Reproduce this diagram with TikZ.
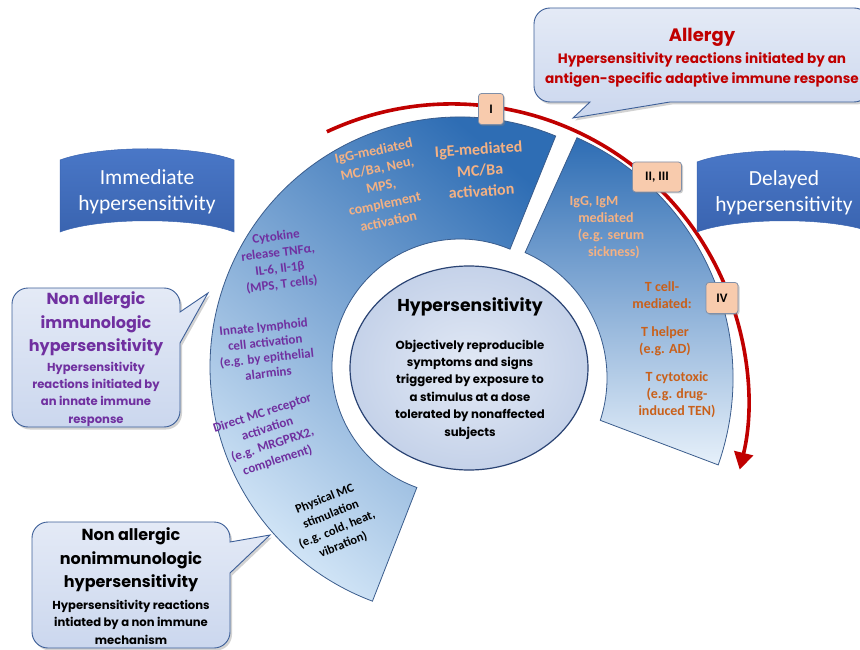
\documentclass[tikz,border=0pt]{standalone}
\usepackage{fontspec}
\setmainfont{Carlito}
\newfontfamily\gothic{Poppins}
\usetikzlibrary{arrows.meta,shadows}
\definecolor{allergyred}{HTML}{C00000}
\definecolor{purp}{HTML}{7030A0}
\definecolor{lorange}{HTML}{F4B183}
\definecolor{dorange}{HTML}{C9601A}
\definecolor{bannerblue}{HTML}{4A78C8}
\definecolor{bannerdark}{HTML}{3A64B0}
\definecolor{calltop}{HTML}{E4EAF6}
\definecolor{callbot}{HTML}{CBD7EE}
\definecolor{callborder}{HTML}{3D5F98}
\definecolor{segdark}{HTML}{2E6DB4}
\definecolor{segmid}{HTML}{8CBBE8}
\definecolor{seglight}{HTML}{D3E6F7}
\definecolor{rsegmid}{HTML}{86AEDF}
\definecolor{rseglight}{HTML}{E6F0FA}
\definecolor{segedge}{HTML}{3A5C8C}
\definecolor{badgefill}{HTML}{F8CBAD}
\definecolor{badgeedge}{HTML}{7F8FA8}
\definecolor{ellin}{HTML}{E2E9F5}
\definecolor{ellout}{HTML}{C5D2E9}
\definecolor{elledge}{HTML}{2A4373}
\tikzset{
  callout/.style={draw=callborder, line width=0.9pt, top color=calltop, bottom color=callbot,
    drop shadow={shadow xshift=2pt, shadow yshift=-2.5pt, opacity=0.35}},
  banner/.style={top color=bannerblue, bottom color=bannerdark, draw=bannerdark, line width=0.5pt},
  badge/.style={draw=badgeedge, line width=0.8pt, fill=badgefill, rounded corners=3pt, inner sep=0pt,
    font=\bfseries\fontsize{13}{15}\selectfont,
    drop shadow={shadow xshift=1.5pt, shadow yshift=-1.5pt, opacity=0.4}},
  ringtxt/.style={align=center, inner sep=0pt, font=\bfseries\fontsize{13}{16}\selectfont},
  segment/.style={draw=segedge, line width=0.8pt},
  redarc/.style={draw=allergyred, line width=3.6pt, -{Triangle[length=17pt,width=19pt]}},
  bannertxt/.style={align=center, text=white, inner sep=0pt, font=\fontsize{21.5}{26.5}\selectfont},
}
\begin{document}
\begin{tikzpicture}[x=1pt,y=-1pt]
\useasboundingbox (0,0) rectangle (860,650);
\clip (0,0) rectangle (860,650);
\fill[white] (0,0) rectangle (860,650);

% ring segments
\coordinate (L) at (460,367);
\coordinate (R) at (470,378);
\path[segment, top color=segdark, middle color=segmid, bottom color=seglight, shading angle=-40]
  ([shift={(-67.5:250)}]L) arc[start angle=-67.5, end angle=-249.5, radius=250]
  -- ([shift={(-250.3:128)}]L) arc[start angle=-250.3, end angle=-67, radius=128] -- cycle;
\path[segment, top color=segdark, middle color=rsegmid, bottom color=rseglight]
  ([shift={(-66:263)}]R) arc[start angle=-66, end angle=19.3, radius=263]
  -- ([shift={(18:137)}]R) arc[start angle=18, end angle=-66.3, radius=137] -- cycle;

% central ellipse
\path[draw=elledge, line width=1.2pt, inner color=ellin, outer color=ellout]
  (469,368) ellipse [x radius=119, y radius=102];

% red arc
\coordinate (arcC) at (452,400);
\draw[redarc] ([shift={(-115:296)}]arcC) arc[start angle=-115, end angle=13.6, radius=296];

% badges
\node[badge, minimum width=25pt, minimum height=31pt] (b1) at (491,109) {I};
\node[badge, minimum width=49pt, minimum height=30pt] (b2) at (657,177) {II, III};
\node[badge, minimum width=32pt, minimum height=31pt] (b4) at (722,298) {IV};

% banners
\path[banner] (60,160) .. controls (100,145) and (195,145) .. (234,160) -- (234,232)
  .. controls (195,217) and (100,217) .. (60,232) -- cycle;
\node[bannertxt] (immT) at (147,192) {Immediate\\hypersensitivity};
\path[banner] (697,162) .. controls (737,147) and (832,147) .. (871,162) -- (871,232)
  .. controls (832,217) and (737,217) .. (697,232) -- cycle;
\node[bannertxt] (delT) at (784,193) {Delayed\\hypersensitivity};

% callouts
\path[callout] (550,8) -- (854,8) arc[start angle=-90,end angle=0,radius=16] -- (870,86)
  arc[start angle=0,end angle=90,radius=16] -- (670,102) -- (573,118) -- (590,102) -- (550,102)
  arc[start angle=90,end angle=180,radius=16] -- (534,24) arc[start angle=180,end angle=270,radius=16] -- cycle;
\node[text=allergyred, inner sep=0pt, font=\gothic\bfseries\fontsize{18}{21}\selectfont] (allT) at (702,37) {Allergy};
\node[text=allergyred, align=center, inner sep=0pt, font=\gothic\bfseries\fontsize{13.6}{20}\selectfont] (allS) at (702,70)
  {Hypersensitivity reactions initiated by an\\antigen-specific adaptive immune response};

\path[callout] (28,288) -- (164,288) arc[start angle=-90,end angle=0,radius=16] -- (180,312) -- (208,293)
  -- (180,343) -- (180,411) arc[start angle=0,end angle=90,radius=16] -- (28,427)
  arc[start angle=90,end angle=180,radius=16] -- (12,304) arc[start angle=180,end angle=270,radius=16] -- cycle;
\node[text=purp, align=center, inner sep=0pt, font=\gothic\bfseries\fontsize{16}{23.5}\selectfont] (immuT) at (96,324)
  {Non allergic\\immunologic\\hypersensitivity};
\node[text=purp, align=center, inner sep=0pt, font=\gothic\bfseries\fontsize{11.6}{17.3}\selectfont] (immuS) at (96,394)
  {Hypersensitivity\\reactions initiated by\\an innate immune\\response};

\path[callout] (48,522) -- (214,522) arc[start angle=-90,end angle=0,radius=16] -- (230,542) -- (270,535)
  -- (230,573) -- (230,632) arc[start angle=0,end angle=90,radius=16] -- (48,648)
  arc[start angle=90,end angle=180,radius=16] -- (32,538) arc[start angle=180,end angle=270,radius=16] -- cycle;
\node[text=black, align=center, inner sep=0pt, font=\gothic\bfseries\fontsize{16}{23.5}\selectfont] (nonT) at (131,560)
  {Non allergic\\nonimmunologic\\hypersensitivity};
\node[text=black, align=center, inner sep=0pt, font=\gothic\bfseries\fontsize{11.6}{17.5}\selectfont] (nonS) at (131,622)
  {Hypersensitivity reactions\\intiated by a non immune\\mechanism};

% centre texts
\node[inner sep=0pt, font=\gothic\bfseries\fontsize{17.2}{21}\selectfont] (coreT) at (470,307) {Hypersensitivity};
\node[align=center, inner sep=0pt, font=\gothic\bfseries\fontsize{11.7}{17.4}\selectfont] (coreS) at (470,389.5)
  {Objectively reproducible\\symptoms and signs\\triggered by exposure to\\a stimulus at a dose\\tolerated by nonaffected\\subjects};

% ring texts
\node[ringtxt, text=lorange, rotate=12, font=\bfseries\fontsize{14}{18}\selectfont] (igg) at (381,186)
  {IgG-mediated\\MC/Ba, Neu,\\MPS,\\complement\\activation};
\node[ringtxt, text=lorange, rotate=4, font=\bfseries\fontsize{16}{21}\selectfont] (ige) at (480,170)
  {IgE-mediated\\MC/Ba\\activation};
\node[ringtxt, text=purp, rotate=7] (cyto) at (279,261) {Cytokine\\release TNFα,\\IL-6, Il-1β\\(MPS, T cells)};
\node[ringtxt, text=purp, rotate=6, font=\bfseries\fontsize{13}{15.5}\selectfont] (ilc) at (266,350)
  {Innate lymphoid\\cell activation\\(e.g. by epithelial\\alarmins};
\node[ringtxt, text=purp, rotate=18, font=\bfseries\fontsize{13}{16.5}\selectfont] (dmc) at (270,437)
  {Direct MC receptor\\activation\\(e.g. MRGPRX2,\\complement)};
\node[ringtxt, text=black, rotate=22, font=\bfseries\fontsize{12.5}{16.5}\selectfont] (phys) at (334,522)
  {Physical MC\\stimulation\\(e.g. cold, heat,\\vibration)};
\node[ringtxt, text=lorange, font=\bfseries\fontsize{14}{17}\selectfont] (iggm) at (606,227)
  {IgG, IgM\hspace*{24pt}\\mediated\hspace*{6pt}\\\hspace*{10pt}(e.g. serum\\\hspace*{16pt}sickness)};
\node[ringtxt, text=dorange, font=\bfseries\fontsize{14}{17}\selectfont] (tcell) at (662,295) {T cell-\\mediated:};
\node[ringtxt, text=dorange, font=\bfseries\fontsize{14}{17}\selectfont] (thelp) at (665,341) {T helper\\(e.g. AD)};
\node[ringtxt, text=dorange, font=\bfseries\fontsize{14}{17}\selectfont] (tcyto) at (677,395) {T cytotoxic\\(e.g. drug-\\induced TEN)};
\end{tikzpicture}
\end{document}
